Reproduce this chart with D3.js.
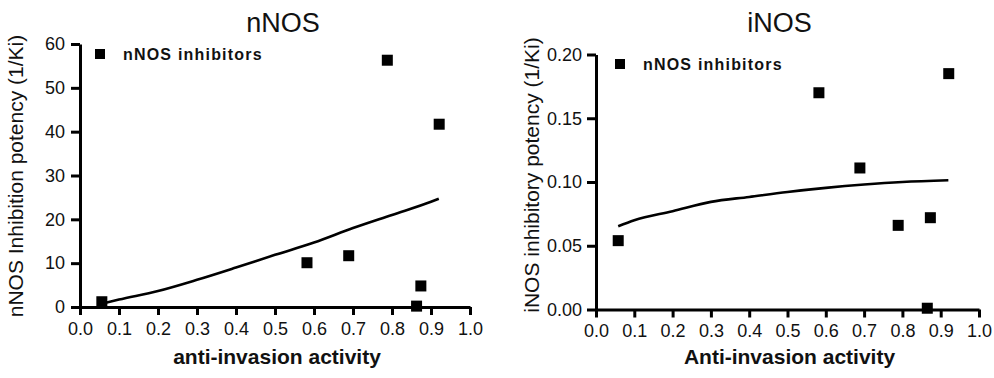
<!DOCTYPE html>
<html>
<head>
<meta charset="utf-8">
<script src="https://cdn.jsdelivr.net/npm/d3@7"></script>
<style>
  html, body { margin: 0; padding: 0; background: #fff; }
  svg { display: block; }
  text { font-family: "Liberation Sans", Arial, Helvetica, sans-serif; fill: #111; }
</style>
</head>
<body>
<svg id="chart" width="994" height="378"></svg>
<script>
// ---- Data ----
const xTicks = [0.0, 0.1, 0.2, 0.3, 0.4, 0.5, 0.6, 0.7, 0.8, 0.9, 1.0];

// nNOS panel
const nnosTitle = "nNOS";
const nnosYLabel = "nNOS Inhibition potency (1/Ki)";
const nnosXLabel = "anti-invasion activity";
const nnosYTicks = [0, 10, 20, 30, 40, 50, 60];
const nnosX = [0.056, 0.582, 0.689, 0.788, 0.863, 0.874, 0.921];
const nnosY = [1.2, 10.1, 11.7, 56.3, 0.2, 4.8, 41.7];
const nnosFitX = [0.06, 0.1, 0.2, 0.3, 0.4, 0.5, 0.6, 0.7, 0.8, 0.9, 0.92];
const nnosFitY = [0.85, 1.7, 3.65, 6.2, 9.0, 11.9, 14.7, 18.0, 21.0, 24.0, 24.7];

// iNOS panel
const inosTitle = "iNOS";
const inosYLabel = "iNOS inhibitory potency (1/Ki)";
const inosXLabel = "Anti-invasion activity";
const inosYTicks = [0.00, 0.05, 0.10, 0.15, 0.20];
const inosX = [0.058, 0.582, 0.689, 0.789, 0.865, 0.873, 0.921];
const inosY = [0.054, 0.170, 0.111, 0.066, 0.001, 0.072, 0.185];
const inosFitX = [0.058, 0.1, 0.2, 0.3, 0.4, 0.5, 0.6, 0.7, 0.8, 0.92];
const inosFitY = [0.0653, 0.070, 0.0771, 0.0844, 0.0883, 0.0922, 0.0954, 0.098, 0.100, 0.1014];

const legendLabel = "nNOS inhibitors";

// ---- Drawing ----
const svg = d3.select("#chart");
svg.append("rect").attr("width", 994).attr("height", 378).attr("fill", "#fff");

function panel(cfg) {
  const g = svg.append("g");
  const x = d3.scaleLinear().domain([0, 1]).range([cfg.x0, cfg.x1]);
  const y = d3.scaleLinear().domain(cfg.yDomain).range([cfg.y0, cfg.y1]);

  // x axis
  const xa = g.append("g").attr("transform", `translate(0,${cfg.y0})`)
    .call(d3.axisBottom(x).tickValues(xTicks).tickSize(8).tickSizeOuter(0).tickPadding(7)
      .tickFormat(d3.format(".1f")));
  // y axis
  const ya = g.append("g").attr("transform", `translate(${cfg.x0},0)`)
    .call(d3.axisLeft(y).tickValues(cfg.yTicks).tickSize(9).tickSizeOuter(0).tickPadding(cfg.yPad)
      .tickFormat(cfg.yFormat));
  [xa, ya].forEach(a => {
    a.select(".domain").attr("stroke", "#000").attr("stroke-width", 3);
    a.selectAll(".tick line").attr("stroke", "#000").attr("stroke-width", 3);
    a.selectAll(".tick text").attr("font-size", 18).attr("fill", "#111")
      .style("font-family", '"Liberation Sans", Arial, sans-serif');
  });

  // fit curve
  const line = d3.line().x(d => x(d[0])).y(d => y(d[1])).curve(d3.curveMonotoneX);
  g.append("path").datum(cfg.fitX.map((v, i) => [v, cfg.fitY[i]]))
    .attr("d", line).attr("fill", "none").attr("stroke", "#000").attr("stroke-width", 2.6);

  // points
  const s = 11;
  g.selectAll("rect.pt").data(cfg.px.map((v, i) => [v, cfg.py[i]])).enter()
    .append("rect").attr("class", "pt")
    .attr("x", d => x(d[0]) - s / 2).attr("y", d => y(d[1]) - s / 2)
    .attr("width", s).attr("height", s).attr("fill", "#000");

  // title
  g.append("text").attr("x", cfg.titleX).attr("y", 32).attr("text-anchor", "middle")
    .attr("font-size", 27).text(cfg.title);

  // axis labels
  g.append("text").attr("x", (cfg.x0 + cfg.x1) / 2 + cfg.xLabelDx).attr("y", 364)
    .attr("text-anchor", "middle").attr("font-size", 21).attr("font-weight", "bold")
    .text(cfg.xLabel);
  g.append("text")
    .attr("transform", `translate(${cfg.yLabelX},${cfg.yLabelCY}) rotate(-90)`)
    .attr("text-anchor", "middle").attr("font-size", 21).text(cfg.yLabel);

  // legend
  g.append("rect").attr("x", cfg.legX - 5).attr("y", cfg.legY - 5)
    .attr("width", 10).attr("height", 10).attr("fill", "#000");
  g.append("text").attr("x", cfg.legX + 23).attr("y", cfg.legY + 6)
    .attr("font-size", 16).attr("font-weight", "bold").attr("letter-spacing", 1.2)
    .text(legendLabel);
}

panel({
  x0: 80, x1: 470, y0: 307, y1: 44, yDomain: [0, 60], yTicks: nnosYTicks,
  yFormat: d3.format("d"), yPad: 6,
  fitX: nnosFitX, fitY: nnosFitY, px: nnosX, py: nnosY,
  title: nnosTitle, titleX: 283, xLabel: nnosXLabel, xLabelDx: 2,
  yLabel: nnosYLabel, yLabelX: 23, yLabelCY: 176,
  legX: 100, legY: 54
});

panel({
  x0: 596, x1: 979, y0: 309.5, y1: 54.5, yDomain: [0, 0.2], yTicks: inosYTicks,
  yFormat: d3.format(".2f"), yPad: 5,
  fitX: inosFitX, fitY: inosFitY, px: inosX, py: inosY,
  title: inosTitle, titleX: 779.5, xLabel: inosXLabel, xLabelDx: 2,
  yLabel: inosYLabel, yLabelX: 539, yLabelCY: 175,
  legX: 620, legY: 64
});
</script>
</body>
</html>
